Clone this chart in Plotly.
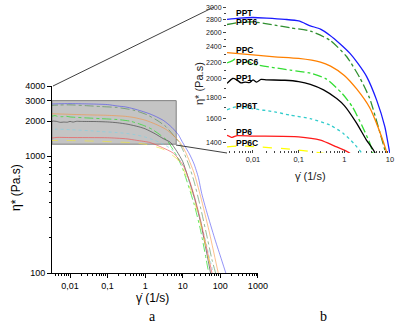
import plotly.graph_objects as go

# ---------------- data (shear rate in 1/s, complex viscosity in Pa.s) ----------------
PPT_rate = [0.0027, 0.005, 0.01, 0.02, 0.05, 0.1, 0.18, 0.3, 0.48, 0.8, 1.33, 2, 3.1, 5.1, 7.7, 9.6, 15, 20, 26, 32, 44, 70, 100, 140]
PPT_eta = [2800, 2820, 2830, 2820, 2800, 2775, 2700, 2650, 2560, 2440, 2310, 2180, 2024, 1774, 1527, 1340, 1050, 860, 660, 480, 330, 200, 140, 100]

PPT6_rate = [0.0027, 0.005, 0.01, 0.03, 0.065, 0.18, 0.48, 1.12, 2.2, 3.6, 5.5, 8.0, 10, 15, 20, 30, 45, 60, 75]
PPT6_eta = [2720, 2750, 2760, 2710, 2670, 2620, 2490, 2270, 2010, 1790, 1530, 1316, 1140, 820, 610, 360, 200, 130, 100]

PPC_rate = [0.0027, 0.01, 0.03, 0.1, 0.3, 0.5, 1, 1.86, 3.6, 5.5, 8.5, 12, 20, 30, 50, 88]
PPC_eta = [2320, 2290, 2265, 2245, 2200, 2150, 2040, 1890, 1700, 1520, 1316, 1080, 720, 450, 230, 100]

PPC6_rate = [0.0027, 0.0035, 0.004, 0.0046, 0.006, 0.008, 0.01, 0.03, 0.065, 0.18, 0.4, 0.9, 1.5, 2.5, 3.6, 4.1, 7, 10, 20, 30, 49]
PPC6_eta = [2190, 2215, 2235, 2200, 2185, 2205, 2175, 2130, 2103, 2066, 2000, 1841, 1709, 1527, 1393, 1330, 1000, 780, 390, 230, 100]

PP1_rate = [0.0027, 0.0036, 0.0044, 0.0055, 0.0068, 0.0085, 0.01, 0.012, 0.015, 0.02, 0.05, 0.1, 0.18, 0.35, 0.68, 1.0, 1.84, 3.0, 4.7, 7, 10, 20, 30, 55]
PP1_eta = [1950, 2005, 1990, 1955, 1965, 1960, 1990, 1965, 1995, 1990, 1985, 1970, 1940, 1880, 1790, 1720, 1560, 1420, 1316, 1100, 900, 450, 270, 100]

PP6T_rate = [0.0027, 0.0045, 0.01, 0.03, 0.065, 0.18, 0.48, 0.95, 1.6, 2.4, 5, 10, 20, 30, 65]
PP6T_eta = [1680, 1710, 1690, 1660, 1630, 1598, 1542, 1470, 1391, 1316, 1150, 850, 450, 280, 100]

PP6_rate = [0.0027, 0.0035, 0.0045, 0.01, 0.1, 0.3, 0.6, 1.3, 2, 5.7, 10.5, 15.8, 21.5, 30, 60]
PP6_eta = [1455, 1438, 1452, 1448, 1442, 1415, 1370, 1316, 1250, 1060, 824, 593, 427, 280, 100]

PP6C_rate = [0.0027, 0.005, 0.01, 0.065, 0.2, 0.4, 1, 3, 7, 10, 20, 30, 60]
PP6C_eta = [1362, 1370, 1365, 1345, 1325, 1310, 1270, 1150, 950, 800, 420, 260, 100]

series_names = ["PPT", "PPT6", "PPC", "PPC6", "PP1", "PP6T", "PP6", "PP6C"]
series_rates = [PPT_rate, PPT6_rate, PPC_rate, PPC6_rate, PP1_rate, PP6T_rate, PP6_rate, PP6C_rate]
series_etas = [PPT_eta, PPT6_eta, PPC_eta, PPC6_eta, PP1_eta, PP6T_eta, PP6_eta, PP6C_eta]

main_xticks = [0.01, 0.1, 1, 10, 100, 1000]
main_xticktext = ["0,01", "0,1", "1", "10", "100", "1000"]
main_yticks = [100, 1000, 2000, 3000, 4000]
inset_xticks = [0.01, 0.1, 1, 10]
inset_xticktext = ["0,01", "0,1", "1", "10"]
inset_yticks = [1400, 1600, 1800, 2000, 2200, 2400, 2600, 2800, 3000]

# ---------------- styles ----------------
colors = ["#1a1aff", "#2f8f2f", "#ff8000", "#33dd33", "#000000", "#33cccc", "#ff1a1a", "#ffff00"]
dashes = ["solid", "dashdot", "solid", "dashdot", "solid", "dot", "solid", "dash"]
main_colors = ["rgba(60,60,240,0.55)", "rgba(60,130,60,0.55)", "rgba(250,140,50,0.55)", "rgba(40,220,40,0.7)",
               "rgba(60,60,60,0.65)", "rgba(120,210,230,0.6)", "rgba(240,80,80,0.65)", "rgba(240,230,60,0.7)"]

W, H = 409, 326
def px(x):
    return x / W
def py(y):
    return (H - y) / H

fig = go.Figure()

for name, r, e, c, d in zip(series_names, series_rates, series_etas, main_colors, dashes):
    fig.add_trace(go.Scatter(x=r, y=e, mode="lines", name=name, xaxis="x", yaxis="y",
                             line=dict(color=c, width=1, dash=d, shape="spline", smoothing=0.6),
                             showlegend=False, hoverinfo="skip"))

for name, r, e, c, d in zip(series_names, series_rates, series_etas, colors, dashes):
    fig.add_trace(go.Scatter(x=r, y=e, mode="lines", name=name, xaxis="x2", yaxis="y2",
                             line=dict(color=c, width=1.3, dash=d, shape="spline", smoothing=0.6),
                             showlegend=False, hoverinfo="skip"))

def decade_minors(lo_exp, hi_exp):
    vals = []
    for e in range(lo_exp, hi_exp):
        for m in range(2, 10):
            vals.append(m * 10 ** e)
    return vals

font = "Liberation Sans, Arial, sans-serif"

fig.update_layout(
    width=W, height=H, autosize=False,
    margin=dict(l=0, r=0, t=0, b=0, pad=0, autoexpand=False),
    paper_bgcolor="white", plot_bgcolor="white",
    font=dict(family=font, size=9, color="black"),
    xaxis=dict(type="log", domain=[px(52), px(258)], range=[-2.48, 3.003], automargin=False,
               anchor="y", showline=True, linecolor="black", linewidth=1, mirror=False,
               showgrid=False, zeroline=False, tickvals=main_xticks, ticktext=main_xticktext,
               ticks="outside", ticklen=4, tickcolor="black", tickfont=dict(size=9),
               minor=dict(tickvals=[v for v in decade_minors(-3, 3) if v > 0.0033],
                          ticks="outside", ticklen=2, tickcolor="black", showgrid=False)),
    yaxis=dict(type="log", domain=[py(273), py(86)], range=[2, 3.6025], automargin=False,
               anchor="x", showline=True, linecolor="black", linewidth=1, mirror=False,
               showgrid=False, zeroline=False, tickvals=main_yticks,
               ticktext=[str(v) for v in main_yticks],
               ticks="outside", ticklen=4, tickcolor="black", tickfont=dict(size=9),
               minor=dict(tickvals=[200, 300, 400, 500, 600, 700, 800, 900],
                          ticks="outside", ticklen=2, tickcolor="black", showgrid=False)),
    xaxis2=dict(type="log", domain=[px(227), px(390)], range=[-2.569, 1.0], automargin=False,
                anchor="y2", showline=False, showgrid=False, zeroline=False,
                tickvals=inset_xticks, ticktext=inset_xticktext,
                ticks="inside", ticklen=3, tickcolor="#444", tickfont=dict(size=7.5, color="#222"),
                minor=dict(tickvals=[v for v in decade_minors(-3, 1) if v > 0.0027],
                           ticks="inside", ticklen=2, tickcolor="#444", showgrid=False)),
    yaxis2=dict(type="log", domain=[py(153), py(7)], range=[3.1193, 3.4775], automargin=False,
                anchor="x2", showline=False, showgrid=False, zeroline=False,
                tickvals=inset_yticks, ticktext=[str(v) for v in inset_yticks],
                ticks="outside", ticklen=3, tickcolor="#444", tickfont=dict(size=7, color="#222"),
                minor=dict(tickvals=[1500, 1700, 1900, 2100, 2300, 2500, 2700, 2900],
                           ticks="outside", ticklen=2, tickcolor="#444", showgrid=False)),
)

shapes = [
    # gray background of inset
    dict(type="rect", xref="x2 domain", yref="y2 domain", x0=0, x1=1, y0=0, y1=1,
         fillcolor="#c4c4c4", line=dict(width=0), layer="below"),
    # zoom rectangle in main chart
    dict(type="rect", xref="x", yref="y", x0=0.0033, x1=6.7, y0=1270, y1=3000,
         fillcolor="#c4c4c4", line=dict(color="#808080", width=1), layer="below"),
    # connector lines
    dict(type="line", xref="paper", yref="paper", x0=px(53), y0=py(86), x1=px(214), y1=py(7),
         line=dict(color="#404040", width=1)),
    dict(type="line", xref="paper", yref="paper", x0=px(176), y0=py(145), x1=px(227), y1=py(153),
         line=dict(color="#404040", width=1)),
]
fig.update_layout(shapes=shapes)

label_y = [13, 22, 50, 62, 78, 106, 132, 143]
annotations = []
for name, yy in zip(series_names, label_y):
    annotations.append(dict(xref="paper", yref="paper", x=px(234), y=py(yy), text="<b>%s</b>" % name,
                            showarrow=False, xanchor="left", yanchor="middle",
                            font=dict(family=font, size=8.5, color="black")))

annotations += [
    dict(xref="paper", yref="paper", x=px(152), y=py(298), text="γ\u0307 (1/s)", showarrow=False,
         xanchor="center", yanchor="middle", font=dict(family=font, size=12, color="black")),
    dict(xref="paper", yref="paper", x=px(16), y=py(188), text="η* (Pa.s)", showarrow=False,
         textangle=-90, xanchor="center", yanchor="middle", font=dict(family=font, size=12, color="black")),
    dict(xref="paper", yref="paper", x=px(310), y=py(176), text="γ\u0307 (1/s)", showarrow=False,
         xanchor="center", yanchor="middle", font=dict(family=font, size=11, color="#222")),
    dict(xref="paper", yref="paper", x=px(199), y=py(84), text="η* (Pa.s)", showarrow=False,
         textangle=-90, xanchor="center", yanchor="middle", font=dict(family=font, size=11, color="#222")),
    dict(xref="paper", yref="paper", x=px(152), y=py(316), text="a", showarrow=False,
         xanchor="center", yanchor="middle", font=dict(family="Liberation Serif, serif", size=14, color="black")),
    dict(xref="paper", yref="paper", x=px(323), y=py(316), text="b", showarrow=False,
         xanchor="center", yanchor="middle", font=dict(family="Liberation Serif, serif", size=14, color="black")),
]
fig.update_layout(annotations=annotations)

fig.write_html("out.html", config={"displayModeBar": False, "staticPlot": True},
               post_script="document.body.style.margin='0';document.body.style.padding='0';")
